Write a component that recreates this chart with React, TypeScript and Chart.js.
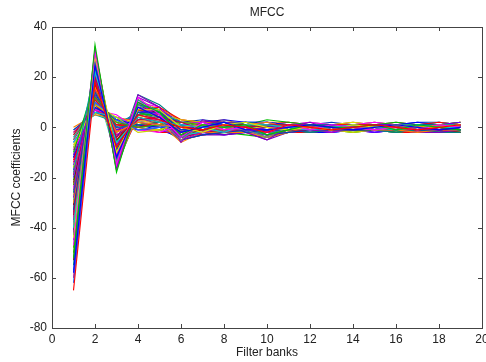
import React, { useEffect, useRef } from "react";
import { Chart, registerables } from "chart.js";

Chart.register(...registerables);

const FILTER_BANKS = [1, 2, 3, 4, 5, 6, 7, 8, 9, 10, 11, 12, 13, 14, 15, 16, 17, 18, 19];
const X_TICKS = [0, 2, 4, 6, 8, 10, 12, 14, 16, 18, 20];
const Y_TICKS = [-80, -60, -40, -20, 0, 20, 40];

const FRAME_01 = [-65, 18, -8, 5, 3, 0, -1, 1, 0, -2, 1, 0, -1, 0, 1, 0, -1, 0, 1];
const FRAME_02 = [-58, 25, -12, 8, 4, -2, 0, 2, -1, -1, 0, 1, 0, -1, 0, 1, 0, -1, 0];
const FRAME_03 = [-52, 33, -18, 10, 6, -3, 1, 0, 1, -3, -1, 1, 0, 0, 1, -1, 1, 0, -1];
const FRAME_04 = [-47, 30, -15, 12, 5, -4, 2, -1, 0, -2, 1, -1, 1, 0, -1, 0, -1, 1, 0];
const FRAME_05 = [-44, 28, -10, 7, 7, 0, -2, 1, 2, 0, -1, 0, -1, 1, 0, 1, 0, 0, 1];
const FRAME_06 = [-40, 22, -6, 4, 2, 1, 0, -2, 1, 1, 0, -1, 0, 1, 0, -1, 1, 0, 0];
const FRAME_07 = [-38, 26, -14, 9, 3, -5, 1, 0, -1, -4, 0, 1, -1, 0, 0, 1, -1, 1, 0];
const FRAME_08 = [-35, 20, -4, 3, 4, 2, -1, 1, 0, 1, 1, 0, 0, -1, 1, 0, 0, -1, 1];
const FRAME_09 = [-33, 24, -9, 6, 6, -1, 0, 2, -2, -1, -1, 1, 1, 0, 0, -1, 1, 0, -1];
const FRAME_10 = [-30, 16, -2, 2, 1, 0, 1, -1, 1, 2, 0, 0, -1, 1, -1, 0, 0, 1, 0];
const FRAME_11 = [-28, 19, -7, 5, 3, -2, 2, 0, 0, -1, 1, -1, 0, 0, 1, 1, -1, 0, 1];
const FRAME_12 = [-26, 14, 0, 1, 2, 1, -1, 0, 2, 1, 0, 1, 0, -1, 0, 0, 1, 1, 0];
const FRAME_13 = [-25, 21, -11, 8, 5, -3, 0, 1, -1, -2, 0, 0, 1, 0, -1, 1, 0, -1, 1];
const FRAME_14 = [-23, 12, 2, 0, 1, 2, 1, -1, 0, 1, 1, 0, 0, 1, 0, -1, 0, 0, -1];
const FRAME_15 = [-22, 17, -5, 4, 2, 0, -1, 1, 1, 0, -1, 1, 0, 0, 1, 0, 1, -1, 0];
const FRAME_16 = [-20, 10, 3, -1, 0, 1, 0, 0, 1, 2, 0, -1, 1, 0, 0, 1, -1, 0, 1];
const FRAME_17 = [-19, 15, -3, 3, 3, -1, 1, -2, 0, -1, 1, 0, -1, 1, 0, 0, 0, 1, 0];
const FRAME_18 = [-18, 23, -13, 11, 6, -4, 0, 1, -1, -3, 0, 1, 0, -1, 1, 0, 1, 0, -1];
const FRAME_19 = [-16, 9, 4, -2, -1, 2, 1, 0, 1, 1, 0, 0, 1, 0, -1, 0, 0, 1, 0];
const FRAME_20 = [-15, 13, -1, 2, 1, 0, 0, 1, -1, 0, 1, -1, 0, 0, 1, 1, 0, -1, 0];
const FRAME_21 = [-13, 11, 1, 0, 2, 1, -1, 0, 0, 1, -1, 0, 1, 1, 0, -1, 1, 0, 1];
const FRAME_22 = [-12, 8, 3, 1, 0, 0, 1, 1, 2, 0, 0, 1, 0, -1, 0, 0, 1, 1, 0];
const FRAME_23 = [-10, 18, -8, 6, 4, -2, 0, -1, 0, -1, 1, 0, -1, 0, 1, 0, -1, 0, 0];
const FRAME_24 = [-9, 7, 5, -1, -2, 1, 2, 0, 1, 2, 0, 0, 0, 1, 0, 1, 0, -1, 1];
const FRAME_25 = [-8, 10, 2, 3, 1, -1, 0, 1, 0, 0, -1, 1, 1, 0, -1, 0, 1, 0, 0];
const FRAME_26 = [-6, 6, 4, 0, 1, 2, 1, 0, 1, 1, 1, 0, 0, 0, 1, -1, 0, 1, -1];
const FRAME_27 = [-5, 12, -2, 2, 3, 0, -1, 0, -1, 0, 0, -1, 1, 0, 0, 1, 0, 0, 1];
const FRAME_28 = [-3, 9, 1, 1, 2, 1, 0, 1, 0, 1, 0, 1, 0, -1, 1, 0, -1, 1, 0];
const FRAME_29 = [-1, 6, 3, 0, 1, 0, 1, -1, 1, 0, 1, 0, -1, 0, 0, 0, 1, 0, 1];
const FRAME_30 = [0, 5, 4, 2, 0, 1, 0, 0, 0, 1, 0, 0, 1, 1, 0, -1, 0, 0, 0];
const FRAME_31 = [-42, 31, -16, 13, 8, -6, 3, 1, -2, -5, 0, 2, -1, 0, 1, -1, 0, 1, -1];
const FRAME_32 = [-55, 27, -13, 9, 7, -2, 1, 2, -1, -2, 1, 0, 0, 1, -1, 0, 1, -1, 0];
const FRAME_33 = [-36, 29, -17, 10, 4, -5, -2, 0, 1, -3, -1, 1, 0, -1, 0, 1, -1, 0, 1];
const FRAME_34 = [-48, 20, -6, 5, 5, 0, 2, -1, 2, 0, 1, -1, 1, 0, 0, -1, 0, 1, 0];
const FRAME_35 = [-31, 25, -12, 7, 6, -3, -1, 1, 0, -2, 0, 1, -1, 1, 0, 0, -1, 0, 1];
const FRAME_36 = [-62, 21, -9, 6, 4, -1, 0, 0, 1, -1, -1, 0, 1, 0, 1, 0, 0, -1, 0];
const FRAME_37 = [-2, 7, 3, 3, 4, 1, 0, 0, 1, 0, 1, 1, 0, 0, 1, 0, 1, 0, 0];
const FRAME_38 = [-4, 8, 2, 5, 6, 2, 1, 1, 2, 1, 0, 1, 0, 1, 0, 1, 1, 1, 1];
const FRAME_39 = [-7, 9, 1, 4, 5, 3, 2, 1, 0, 1, 1, 0, 1, 0, 0, 1, 0, 1, 1];
const FRAME_40 = [-11, 11, 0, 6, 7, 2, 1, 2, 1, 0, 0, 1, 1, 1, 0, 0, 1, 1, 2];
const FRAME_41 = [-14, 12, -2, 7, 8, 3, 2, 2, 1, 1, 1, 0, 0, 1, 1, 0, 1, 2, 1];
const FRAME_42 = [-17, 14, -4, 8, 7, 1, 2, 3, 2, 2, 1, 1, 1, 0, 1, 1, 2, 1, 1];
const FRAME_43 = [-21, 16, -6, 9, 7, 0, 1, 2, 1, 3, 2, 1, 0, 1, 1, 2, 1, 1, 2];
const FRAME_44 = [-24, 18, -8, 10, 8, -1, 0, 1, 2, 1, 1, 2, 1, 1, 2, 1, 0, 1, 1];
const FRAME_45 = [-27, 19, -9, 11, 7, -2, -1, 1, 0, 0, 1, 0, 1, 2, 1, 1, 1, 0, 2];
const FRAME_46 = [-29, 21, -10, 9, 6, -3, -2, 0, 1, -1, 0, 1, 0, 1, 1, 0, 1, 2, 1];
const FRAME_47 = [-32, 22, -11, 8, 5, -4, -1, -1, 0, -2, -1, 0, 1, 0, 1, 1, 0, 1, 1];
const FRAME_48 = [-34, 23, -12, 7, 4, -4, -2, -1, -1, -3, -1, -1, 0, 1, 0, 0, -1, 0, 0];
const FRAME_49 = [-37, 24, -13, 6, 3, -5, -3, -2, -1, -3, -2, -1, 0, 0, -1, 0, -1, -1, 0];
const FRAME_50 = [-39, 26, -15, 5, 2, -6, -2, -2, -2, -4, -2, 0, -1, 0, -1, -1, -2, -1, -1];
const FRAME_51 = [-41, 27, -14, 4, 1, -5, -3, -3, -2, -5, -2, -1, -1, -1, 0, -1, -2, -2, -1];
const FRAME_52 = [-43, 28, -16, 6, 3, -4, -2, -2, -1, -4, -1, -2, -1, -1, -1, -2, -1, -2, -2];
const FRAME_53 = [-45, 29, -15, 8, 4, -3, -1, -1, 0, -3, -2, -1, -2, 0, -1, -1, -2, -1, -1];
const FRAME_54 = [-50, 30, -17, 9, 5, -2, 0, 0, -1, -2, -1, 0, -1, -1, 0, -2, -1, -2, -1];
const FRAME_55 = [-53, 31, -14, 11, 6, -1, 1, 1, 0, -1, 0, -1, 0, -1, -1, -1, 0, -1, -2];
const FRAME_56 = [-57, 29, -12, 10, 5, -2, 0, 0, 1, -2, -1, 0, -1, 0, -1, -1, -1, 0, -1];
const FRAME_57 = [-60, 24, -10, 7, 4, -3, -1, 1, 0, -1, 0, 0, 0, -1, 0, 0, -1, -1, 0];
const FRAME_58 = [-1, 5, 2, 1, 0, -1, -2, -1, -2, -1, -1, -2, -1, -1, -1, -2, -1, -2, -2];
const FRAME_59 = [-3, 6, 1, 0, -1, -2, -1, -2, -1, -2, -2, -1, -1, -2, -1, -1, -2, -1, -2];
const FRAME_60 = [-6, 7, 0, -1, -1, -3, -2, -1, -2, -2, -1, -1, -2, -1, -2, -1, -1, -2, -1];
const FRAME_61 = [-9, 8, -1, 0, -2, -2, -3, -2, -1, -3, -2, -2, -1, -1, -1, -2, -2, -1, -2];
const FRAME_62 = [-12, 10, -3, 1, -1, -4, -2, -3, -2, -2, -1, -2, -2, -1, -2, -1, -2, -2, -1];
const FRAME_63 = [-16, 12, -5, 2, 0, -5, -3, -2, -3, -4, -2, -1, -1, -2, -1, -2, -1, -2, -2];
const FRAME_64 = [-20, 14, -7, 3, 1, -4, -2, -3, -2, -3, -1, -2, -1, -1, -2, -1, -2, -1, -1];
const FRAME_65 = [-23, 15, -9, 3, 2, -3, -1, -2, -1, -2, -2, -1, -1, -2, -1, -1, -1, -2, -1];
const FRAME_66 = [-26, 17, -12, 4, 2, -3, -2, -1, -2, -3, -1, -1, -2, -1, -1, -2, -1, -1, -2];
const FRAME_67 = [-2, 6, 4, 2, 3, 1, 2, 1, 1, 2, 1, 2, 1, 1, 2, 1, 1, 2, 1];
const FRAME_68 = [-5, 9, 3, 3, 4, 2, 2, 2, 1, 1, 2, 1, 1, 2, 1, 2, 1, 1, 2];
const FRAME_69 = [-8, 11, 1, 6, 6, 2, 3, 2, 2, 2, 1, 1, 2, 1, 1, 1, 2, 2, 1];
const FRAME_70 = [-11, 13, -1, 7, 7, 3, 2, 3, 1, 2, 2, 1, 1, 1, 2, 1, 1, 1, 2];
const FRAME_71 = [-33, 26, -16, 12, 8, 1, 0, 2, 0, -1, 0, 1, 0, 1, 0, 0, 1, 0, 0];
const FRAME_72 = [-19, 21, -11, 13, 9, 2, 1, 1, 1, 0, 1, 0, 1, 0, 1, 1, 0, 0, 1];

const FRAMES = [
  FRAME_01, FRAME_02, FRAME_03, FRAME_04, FRAME_05, FRAME_06, FRAME_07, FRAME_08, FRAME_09,
  FRAME_10, FRAME_11, FRAME_12, FRAME_13, FRAME_14, FRAME_15, FRAME_16, FRAME_17, FRAME_18,
  FRAME_19, FRAME_20, FRAME_21, FRAME_22, FRAME_23, FRAME_24, FRAME_25, FRAME_26, FRAME_27,
  FRAME_28, FRAME_29, FRAME_30, FRAME_31, FRAME_32, FRAME_33, FRAME_34, FRAME_35, FRAME_36,
  FRAME_37, FRAME_38, FRAME_39, FRAME_40, FRAME_41, FRAME_42, FRAME_43, FRAME_44, FRAME_45,
  FRAME_46, FRAME_47, FRAME_48, FRAME_49, FRAME_50, FRAME_51, FRAME_52, FRAME_53, FRAME_54,
  FRAME_55, FRAME_56, FRAME_57, FRAME_58, FRAME_59, FRAME_60, FRAME_61, FRAME_62, FRAME_63,
  FRAME_64, FRAME_65, FRAME_66, FRAME_67, FRAME_68, FRAME_69, FRAME_70, FRAME_71, FRAME_72,
];

const COLORS = [
  "#ff0000", "#0000ff", "#00c000", "#ff00ff", "#e6e600", "#00d0d0", "#808080", "#c00040",
  "#0040c0", "#ff8000", "#8000c0", "#008080", "#c000c0", "#40a000", "#a00000", "#2060ff",
  "#e00080", "#00a0a0", "#d0d000", "#6000ff",
];

const TEXT = "#222222";
const FONT = "'Liberation Sans', Arial, sans-serif";
const FS = 12;

const framePlugin = {
  id: "matlabFrame",
  afterDraw(chart: any) {
    const { ctx, chartArea: a, scales } = chart;
    ctx.save();
    ctx.strokeStyle = "#444444";
    ctx.lineWidth = 1;
    ctx.strokeRect(Math.round(a.left) + 0.5, Math.round(a.top) + 0.5, Math.round(a.right - a.left), Math.round(a.bottom - a.top));
    const len = 4;
    ctx.beginPath();
    X_TICKS.forEach((v) => {
      const px = Math.round(scales.x.getPixelForValue(v)) + 0.5;
      ctx.moveTo(px, a.bottom);
      ctx.lineTo(px, a.bottom - len);
      ctx.moveTo(px, a.top);
      ctx.lineTo(px, a.top + len);
    });
    Y_TICKS.forEach((v) => {
      const py = Math.round(scales.y.getPixelForValue(v)) + 0.5;
      ctx.moveTo(a.left, py);
      ctx.lineTo(a.left + len, py);
      ctx.moveTo(a.right, py);
      ctx.lineTo(a.right - len, py);
    });
    ctx.stroke();
    ctx.fillStyle = TEXT;
    ctx.font = `${FS}px ${FONT}`;
    ctx.textAlign = "center";
    ctx.textBaseline = "middle";
    ctx.fillText("MFCC", (a.left + a.right) / 2, 13);
    ctx.restore();
  },
};

export default function App() {
  const ref = useRef<HTMLCanvasElement | null>(null);
  useEffect(() => {
    document.body.style.margin = "0";
    const canvas = ref.current;
    if (!canvas) return;
    const datasets = FRAMES.map((f, i) => ({
      label: `frame ${i + 1}`,
      data: f.map((y, j) => ({ x: FILTER_BANKS[j], y })),
      borderColor: COLORS[i % COLORS.length],
      backgroundColor: COLORS[i % COLORS.length],
      borderWidth: 1.1,
      pointRadius: 0,
      showLine: true,
      fill: false,
      tension: 0,
    }));
    const chart = new Chart(canvas, {
      type: "scatter",
      data: { datasets },
      options: {
        animation: false,
        responsive: false,
        layout: { padding: { top: 27, right: 4, left: 0, bottom: 0 } },
        plugins: { legend: { display: false }, tooltip: { enabled: false }, title: { display: false } },
        scales: {
          x: {
            type: "linear",
            min: 0,
            max: 20,
            afterBuildTicks: (s: any) => { s.ticks = X_TICKS.map((v) => ({ value: v })); },
            afterFit: (s: any) => { s.height = 34; s.paddingLeft = 0; s.paddingRight = 0; },
            grid: { display: false, drawTicks: false },
            border: { display: false },
            ticks: { color: TEXT, font: { family: FONT, size: FS }, padding: 4, maxRotation: 0, autoSkip: false },
            title: { display: true, text: "Filter banks", color: TEXT, font: { family: FONT, size: FS }, padding: { top: 0, bottom: 2 } },
          },
          y: {
            type: "linear",
            min: -80,
            max: 40,
            afterBuildTicks: (s: any) => { s.ticks = Y_TICKS.map((v) => ({ value: v })); },
            afterFit: (s: any) => { s.width = 52; s.paddingTop = 0; s.paddingBottom = 0; },
            grid: { display: false, drawTicks: false },
            border: { display: false },
            ticks: { color: TEXT, font: { family: FONT, size: FS }, padding: 5, autoSkip: false },
            title: { display: true, text: "MFCC coefficients", color: TEXT, font: { family: FONT, size: FS }, padding: { top: 9, bottom: 0 } },
          },
        },
      },
      plugins: [framePlugin],
    } as any);
    return () => chart.destroy();
  }, []);
  return <canvas ref={ref} width={486} height={362} style={{ display: "block" }} />;
}
